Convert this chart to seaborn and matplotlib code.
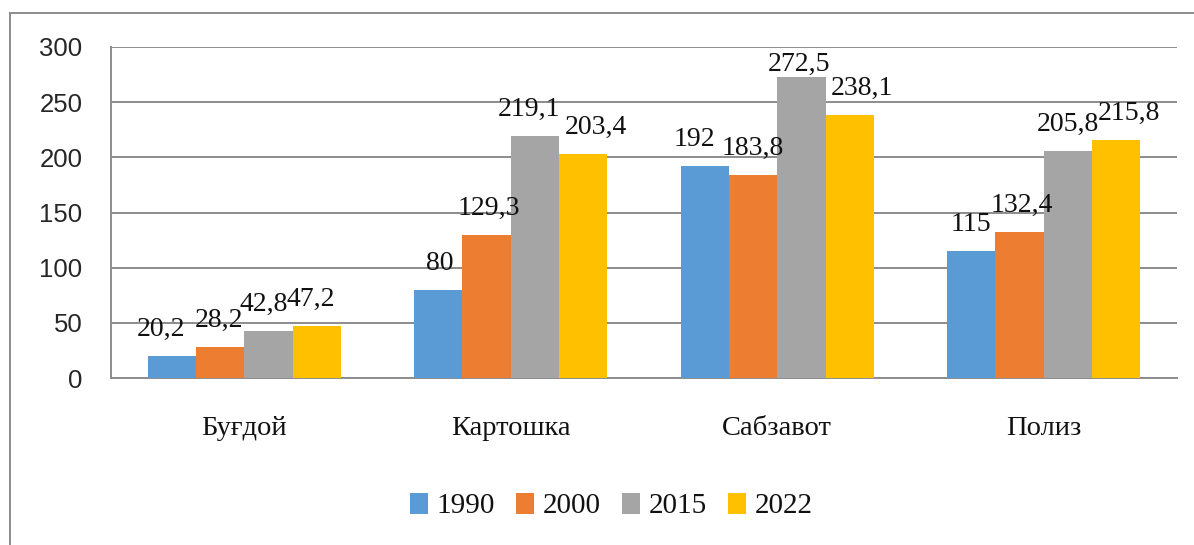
import matplotlib
matplotlib.use("Agg")
import matplotlib.pyplot as plt
import seaborn as sns
import pandas as pd
import numpy as np
from matplotlib.patches import Rectangle, Patch

# ---- data ----
categories = ["Буғдой", "Картошка", "Сабзавот", "Полиз"]
years = ["1990", "2000", "2015", "2022"]
v1990 = [20.2, 80, 192, 115]
v2000 = [28.2, 129.3, 183.8, 132.4]
v2015 = [42.8, 219.1, 272.5, 205.8]
v2022 = [47.2, 203.4, 238.1, 215.8]
y_ticks = [0, 50, 100, 150, 200, 250, 300]

series = [v1990, v2000, v2015, v2022]
colors = ["#5B9BD5", "#ED7D31", "#A5A5A5", "#FFC000"]
# horizontal nudges of the value labels (pixels), per series, per category
label_nudge = [[-11, 1, -10, 0], [-1, 2, 0, 2], [-5, -6, -2, 0], [-6, 13, 12, 13]]

rows = []
for yr, vals in zip(years, series):
    for c, v in zip(categories, vals):
        rows.append({"cat": c, "year": yr, "value": v})
df = pd.DataFrame(rows)

sns.set_theme(style="white")
W, H, DPI = 1194, 545, 100
fig = plt.figure(figsize=(W / DPI, H / DPI), dpi=DPI)
fig.patch.set_facecolor("white")

x0, x1, y0, y1 = 111, 1177, 378, 47
ax = fig.add_axes([x0 / W, (H - y0) / H, (x1 - x0) / W, (y0 - y1) / H])

sns.barplot(data=df, x="cat", y="value", hue="year", order=categories,
            hue_order=years, palette=colors, width=0.725, saturation=1,
            edgecolor="none", linewidth=0, ax=ax, legend=False, zorder=3)

ax.set_ylim(0, 300)
ax.set_xlim(-0.5, len(categories) - 0.5)
ax.set_yticks(y_ticks)
ax.set_xlabel("")
ax.set_ylabel("")

gridc = "#8C8C8C"
ax.yaxis.grid(True, color=gridc, linewidth=1.4, zorder=0)
ax.set_axisbelow(True)
for s in ["top", "right"]:
    ax.spines[s].set_visible(False)
for s in ["left", "bottom"]:
    ax.spines[s].set_visible(True)
    ax.spines[s].set_color(gridc)
    ax.spines[s].set_linewidth(1.4)

serif = ["Liberation Serif", "DejaVu Serif"]
ax.tick_params(axis="y", length=7.5, width=1.4, color=gridc, direction="out",
               pad=13, labelsize=18.5, labelcolor="#262626")
for t in ax.get_yticklabels():
    t.set_fontfamily("Liberation Sans")

# category ticks at group boundaries, labels at centers
ax.set_xticks(np.arange(len(categories) + 1) - 0.5)
ax.set_xticklabels([])
ax.set_xticks(np.arange(len(categories)), minor=True)
ax.set_xticklabels(categories, minor=True, fontfamily=serif, fontsize=20.5,
                   color="#111111")
ax.tick_params(axis="x", which="major", length=7.5, width=1.4, color=gridc,
               direction="out")
ax.tick_params(axis="x", which="minor", length=0, pad=27.5)

# value labels
fig.canvas.draw()
px_per_unit = (y0 - y1) / 300.0
bars = [p for p in ax.patches if p.get_height() > 0]
bars_sorted = sorted(bars, key=lambda p: p.get_x())
for i, (yr, vals) in enumerate(zip(years, series)):
    for j, v in enumerate(vals):
        p = bars_sorted[j * len(years) + i]
        cx = p.get_x() + p.get_width() / 2
        gap_to_top = (300 - v) * px_per_unit
        dy = min(20, gap_to_top - 24)
        txt = f"{v:g}".replace(".", ",")
        ax.annotate(txt, xy=(cx, v), xytext=(label_nudge[i][j], dy),
                    textcoords="offset pixels", ha="center", va="baseline",
                    fontfamily=serif, fontsize=20, color="#111111",
                    annotation_clip=False, zorder=5)

# legend
handles = [Patch(facecolor=c, edgecolor="none") for c in colors]
leg = fig.legend(handles, years, loc="center", bbox_to_anchor=(611 / W, (H - 506) / H),
                 ncol=4, frameon=False, prop={"family": serif, "size": 21},
                 handlelength=0.62, handleheight=0.72, handletextpad=0.3,
                 columnspacing=0.72)
for t in leg.get_texts():
    t.set_color("#111111")

# outer border (cropped on right and bottom in the reference)
fig.patches.append(Rectangle((9.5 / W, -0.05), 1.2, 1 - 12.5 / H + 0.05,
                             transform=fig.transFigure, fill=False,
                             edgecolor="#8C8C8C", linewidth=1.4))

fig.savefig("out.png", dpi=DPI)
